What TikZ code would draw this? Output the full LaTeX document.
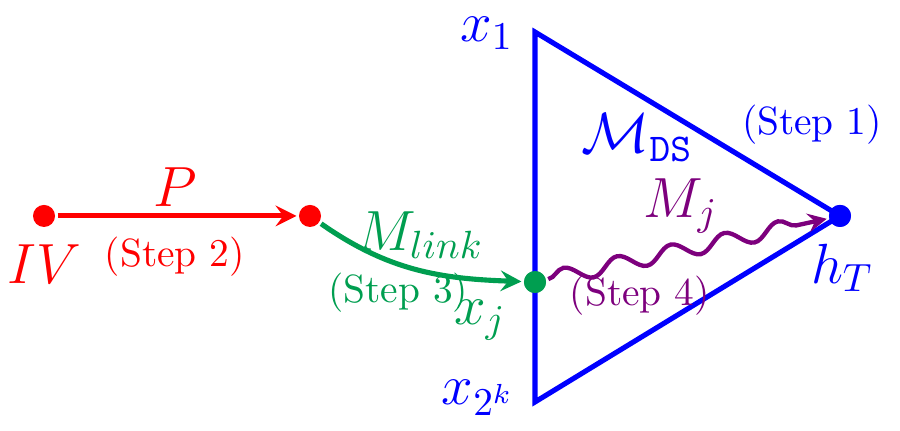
\documentclass[tikz,border=0pt]{standalone}
\usepackage{tikz}
\usetikzlibrary{arrows,decorations.pathmorphing}
\usepackage{color}
\definecolor{linkgreen}{RGB}{0,158,80}
\definecolor{hashpurple}{RGB}{125,0,125}

\begin{document}
\begin{tikzpicture}
      [line width = 1.3pt,
      axis/.style={-stealth},
      dot/.style= {
         draw = none,
         circle,
         inner sep = 0pt,
         minimum size = 5.6pt
      },
      mlabel/.style= {font = \Large},
      steplabel/.style= {font = \normalsize}]

      \useasboundingbox (0, 0) rectangle (8.036, 3.848);

      % the chain of points
      \node[dot, fill = red] (iv) at (0.393, 1.920) {};
      \node[dot, fill = red] (pend) at (2.768, 1.920) {};
      \node[dot, fill = linkgreen] (xj) at (4.777, 1.330) {};
      \node[dot, fill = blue] (ht) at (7.500, 1.920) {};
      \coordinate (top) at (4.777, 3.562);
      \coordinate (bottom) at (4.777, 0.259);

      \draw[blue] (top) -- (ht.center) -- (bottom) -- cycle;
      \node[dot, fill = blue] at (ht) {};
      \node[dot, fill = linkgreen] at (xj) {};

      \draw[axis, red] (iv) -- (pend);
      \draw[axis, linkgreen] (pend) to[out = -35, in = 178] (xj);
      \draw[axis, hashpurple, line width = 1.1pt, decorate,
         decoration = {snake, amplitude = 0.7mm, segment length = 4.9mm,
         post length = 1.5mm}] (xj) -- (ht);

      \node[mlabel, red] (plab) at (1.562, 2.180) {$P$};
      \node[mlabel, red] (ivlab) at (0.393, 1.490) {$IV$};
      \node[steplabel, red] (s2) at (1.562, 1.554) {(Step 2)};
      \node[mlabel, linkgreen] (mlink) at (3.750, 1.750) {$M_{link}$};
      \node[steplabel, linkgreen] (s3) at (3.554, 1.232) {(Step 3)};
      \node[mlabel, linkgreen] (xjlab) at (4.286, 0.991) {$x_j$};
      \node[mlabel, blue] (x1lab) at (4.348, 3.550) {$x_1$};
      \node[mlabel, blue] (x2klab) at (4.268, 0.300) {$x_{2^k}$};
      \node[mlabel, blue] (mds) at (5.690, 2.620) {$\mathcal{M}_{\mathtt{DS}}$};
      \node[steplabel, blue] (s1) at (7.250, 2.732) {(Step 1)};
      \node[mlabel, hashpurple] (mj) at (6.080, 2.010) {$M_j$};
      \node[steplabel, hashpurple] (s4) at (5.714, 1.205) {(Step 4)};
      \node[mlabel, blue] (htlab) at (7.520, 1.455) {$h_T$};

   \end{tikzpicture}
\end{document}
